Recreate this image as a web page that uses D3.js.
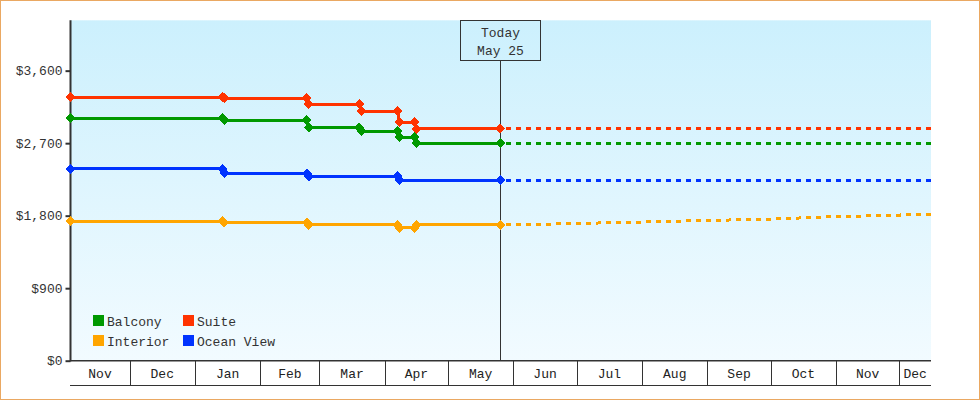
<!DOCTYPE html>
<html>
<head>
<meta charset="utf-8">
<script src="https://cdn.jsdelivr.net/npm/d3@7"></script>
<style>
  html, body { margin: 0; padding: 0; background: #fff; }
  svg { display: block; font-family: "Liberation Mono", "DejaVu Sans Mono", monospace; }
</style>
</head>
<body>
<div id="chart"></div>
<script>
// ---- data ----
const seriesNames  = ["Balcony", "Suite", "Interior", "Ocean View"];
const seriesColors = ["#009900", "#ff3300", "#ffa500", "#0033ff"];

const today = "2023-05-25T18:00";

const balconyDates = ["2022-11-03", "2023-01-14", "2023-01-15", "2023-02-23", "2023-02-24", "2023-03-20", "2023-03-21", "2023-04-07", "2023-04-08", "2023-04-15", "2023-04-16", today];
const balconyPrices = [3010, 3010, 2985, 2985, 2895, 2895, 2850, 2850, 2775, 2775, 2700, 2700];

const suiteDates = ["2022-11-03", "2023-01-14", "2023-01-15", "2023-02-23", "2023-02-24", "2023-03-20", "2023-03-21", "2023-04-07", "2023-04-08", "2023-04-15", "2023-04-16", today];
const suitePrices = [3270, 3270, 3260, 3260, 3185, 3185, 3095, 3095, 2960, 2960, 2880, 2880];

const interiorDates = ["2022-11-03", "2023-01-14", "2023-01-15", "2023-02-23", "2023-02-24", "2023-04-07", "2023-04-08", "2023-04-15", "2023-04-16", today];
const interiorPrices = [1730, 1730, 1715, 1715, 1685, 1685, 1650, 1650, 1685, 1685];

const oceanDates = ["2022-11-03", "2023-01-14", "2023-01-15", "2023-02-23", "2023-02-24", "2023-04-07", "2023-04-08", today];
const oceanPrices = [2380, 2380, 2325, 2325, 2290, 2290, 2240, 2240];

// forecast (dotted) after today
const forecastDates = [today, "2023-06-01", "2023-07-01", "2023-08-01", "2023-09-01", "2023-10-01", "2023-11-01", "2023-12-01", "2023-12-16"];
const balconyForecast  = [2700, 2700, 2700, 2700, 2700, 2700, 2700, 2700, 2700];
const suiteForecast    = [2880, 2880, 2880, 2880, 2880, 2880, 2880, 2880, 2880];
const interiorForecast = [1685, 1686, 1703, 1721, 1740, 1758, 1788, 1808, 1817];
const oceanForecast    = [2240, 2240, 2240, 2240, 2240, 2240, 2240, 2240, 2240];

const yTicks = [0, 900, 1800, 2700, 3600];
const domainStart = "2022-11-03", domainEnd = "2023-12-16";
const yMax = 4225;

// ---- layout ----
const W = 980, H = 400;
const plotLeft = 70.5, plotRight = 931, plotTop = 20.3, plotBottom = 360.7, bandBottom = 385;

const parse = s => new Date(s.length > 10 ? s : s + "T00:00");

const x = d3.scaleTime()
  .domain([parse(domainStart), parse(domainEnd)])
  .range([plotLeft, plotRight]);

const y = d3.scaleLinear()
  .domain([0, yMax])
  .range([plotBottom, plotTop]);

const history = [
  {dates: balconyDates, values: balconyPrices, forecast: balconyForecast},
  {dates: suiteDates, values: suitePrices, forecast: suiteForecast},
  {dates: interiorDates, values: interiorPrices, forecast: interiorForecast},
  {dates: oceanDates, values: oceanPrices, forecast: oceanForecast}
].map((s, i) => ({
  name: seriesNames[i],
  color: seriesColors[i],
  points: s.dates.map((d, j) => ({date: parse(d), value: s.values[j]})),
  future: forecastDates.map((d, j) => ({date: parse(d), value: s.forecast[j]}))
}));

const svg = d3.select("#chart").append("svg")
  .attr("width", W)
  .attr("height", H);

// outer border
svg.append("rect")
  .attr("x", 0.5).attr("y", 0.5)
  .attr("width", W - 1).attr("height", H - 1)
  .attr("fill", "#fff")
  .attr("stroke", "#eaa862");

// plot background gradient
const grad = svg.append("defs").append("linearGradient")
  .attr("id", "bg").attr("x1", 0).attr("y1", 0).attr("x2", 0).attr("y2", 1);
grad.append("stop").attr("offset", "0%").attr("stop-color", "#ccf0fd");
grad.append("stop").attr("offset", "100%").attr("stop-color", "#f2fbff");

svg.append("rect")
  .attr("x", plotLeft).attr("y", plotTop)
  .attr("width", plotRight - plotLeft).attr("height", plotBottom - plotTop)
  .attr("fill", "url(#bg)");

// month band under the plot
const months = d3.timeMonth.range(d3.timeMonth.floor(x.domain()[0]), x.domain()[1]);
const band = svg.append("g");

band.selectAll("line.sep")
  .data(months.filter(m => m > x.domain()[0]))
  .join("line")
    .attr("class", "sep")
    .attr("x1", d => Math.round(x(d)) + 0.5)
    .attr("x2", d => Math.round(x(d)) + 0.5)
    .attr("y1", plotBottom)
    .attr("y2", bandBottom)
    .attr("stroke", "#333");

band.append("line")
  .attr("x1", plotLeft - 0.5).attr("x2", plotRight)
  .attr("y1", bandBottom + 0.5).attr("y2", bandBottom + 0.5)
  .attr("stroke", "#333");

band.append("line")
  .attr("x1", plotLeft - 0.5).attr("x2", plotRight)
  .attr("y1", plotBottom).attr("y2", plotBottom)
  .attr("stroke", "#333").attr("stroke-width", 1.5);

band.selectAll("text.month")
  .data(months)
  .join("text")
    .attr("class", "month")
    .attr("x", d => {
      const a = Math.max(x(d), plotLeft);
      const b = Math.min(x(d3.timeMonth.offset(d, 1)), plotRight);
      return (a + b) / 2;
    })
    .attr("y", 377.5)
    .attr("text-anchor", "middle")
    .attr("font-size", 13)
    .attr("fill", "#222")
    .text(d3.timeFormat("%b"));

// y axis
const yAxis = svg.append("g")
  .attr("transform", `translate(${plotLeft},0)`)
  .call(d3.axisLeft(y).tickValues(yTicks).tickSize(5).tickPadding(3)
    .tickFormat(d => "$" + d3.format(",")(d)));
yAxis.select(".domain").remove();
yAxis.selectAll(".tick line").attr("stroke", "#333").attr("stroke-width", 2);
yAxis.selectAll(".tick text")
  .attr("font-family", "Liberation Mono, DejaVu Sans Mono, monospace")
  .attr("font-size", 13)
  .attr("fill", "#333");

svg.append("line")
  .attr("x1", plotLeft).attr("x2", plotLeft)
  .attr("y1", plotTop).attr("y2", plotBottom + 0.5)
  .attr("stroke", "#333").attr("stroke-width", 2);

// today marker
const tx = Math.round(x(parse(today))) + 0.5;
svg.append("line")
  .attr("x1", tx).attr("x2", tx)
  .attr("y1", 60).attr("y2", plotBottom)
  .attr("stroke", "#333");

svg.append("rect")
  .attr("x", tx - 40).attr("y", 20.5)
  .attr("width", 80).attr("height", 40)
  .attr("fill", "none")
  .attr("stroke", "#333");

svg.append("text")
  .attr("x", tx).attr("y", 37)
  .attr("text-anchor", "middle").attr("font-size", 13).attr("fill", "#333")
  .text("Today");
svg.append("text")
  .attr("x", tx).attr("y", 55)
  .attr("text-anchor", "middle").attr("font-size", 13).attr("fill", "#333")
  .text("May 25");

// lines
const line = d3.line()
  .x(d => x(d.date))
  .y(d => y(d.value));

const diamond = "M0,-5L5,0L0,5L-5,0Z";

const series = svg.append("g").selectAll("g")
  .data(history)
  .join("g");

series.append("path")
  .attr("d", d => line(d.future))
  .attr("fill", "none")
  .attr("stroke", d => d.color)
  .attr("stroke-width", 3)
  .attr("stroke-dasharray", "5,5")
  .attr("stroke-dashoffset", -6)
  .attr("shape-rendering", "crispEdges");

series.append("path")
  .attr("d", d => line(d.points))
  .attr("fill", "none")
  .attr("stroke", d => d.color)
  .attr("stroke-width", 3)
  .attr("shape-rendering", "crispEdges");

series.each(function(s) {
  d3.select(this).selectAll("path.pt")
    .data(s.points)
    .join("path")
      .attr("class", "pt")
      .attr("transform", d => `translate(${x(d.date)},${y(d.value)})`)
      .attr("d", diamond)
      .attr("fill", s.color)
      .attr("shape-rendering", "crispEdges");
});

// legend
const legend = svg.append("g");
const legendPos = [[93, 315], [183, 315], [93, 335], [183, 335]];
legend.selectAll("g")
  .data(seriesNames)
  .join("g")
    .attr("transform", (d, i) => `translate(${legendPos[i][0]},${legendPos[i][1]})`)
    .each(function(d, i) {
      const g = d3.select(this);
      g.append("rect")
        .attr("width", 11).attr("height", 11)
        .attr("fill", seriesColors[i]);
      g.append("text")
        .attr("x", 14).attr("y", 11)
        .attr("font-size", 13).attr("fill", "#333")
        .text(d);
    });
</script>
</body>
</html>
